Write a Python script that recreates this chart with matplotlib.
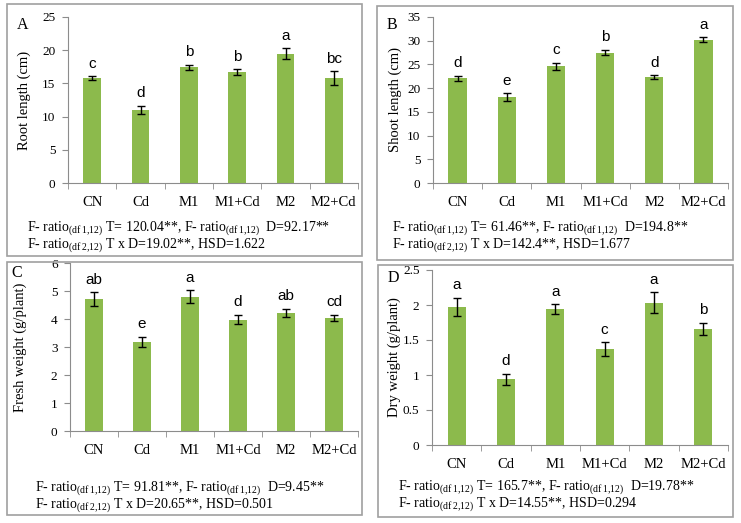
import matplotlib
matplotlib.use("Agg")
import matplotlib.pyplot as plt
from matplotlib.patches import Rectangle
from matplotlib.ticker import FixedLocator, MultipleLocator

plt.rcParams['font.family'] = 'Liberation Serif'
plt.rcParams['mathtext.fontset'] = 'custom'
plt.rcParams['mathtext.rm'] = 'Liberation Serif'

treatments = ['CN', 'Cd', 'M1', 'M1+Cd', 'M2', 'M2+Cd']

root_len = [15.8, 11.0, 17.4, 16.7, 19.5, 15.8]
root_err = [0.3, 0.6, 0.4, 0.4, 0.8, 1.0]
root_sig = ['c', 'd', 'b', 'b', 'a', 'bc']

shoot_len = [22.1, 18.1, 24.6, 27.5, 22.3, 30.2]
shoot_err = [0.5, 0.8, 0.8, 0.6, 0.4, 0.5]
shoot_sig = ['d', 'e', 'c', 'b', 'd', 'a']

fresh_wt = [4.7, 3.18, 4.8, 3.98, 4.21, 4.05]
fresh_err = [0.25, 0.18, 0.22, 0.17, 0.15, 0.11]
fresh_sig = ['ab', 'e', 'a', 'd', 'ab', 'cd']

dry_wt = [1.97, 0.94, 1.94, 1.37, 2.03, 1.66]
dry_err = [0.13, 0.08, 0.07, 0.1, 0.15, 0.09]
dry_sig = ['a', 'd', 'a', 'c', 'a', 'b']

SUB1 = r"$_{\mathrm{(df\,1{,}12)}}$"
SUB2 = r"$_{\mathrm{(df\,2{,}12)}}$"
stats_a = ["F- ratio" + SUB1 + " T= 120.04**, F- ratio" + SUB1 + "  D=92.17**",
           "F- ratio" + SUB2 + " T x D=19.02**, HSD=1.622"]
stats_b = ["F- ratio" + SUB1 + " T= 61.46**, F- ratio" + SUB1 + "  D=194.8**",
           "F- ratio" + SUB2 + " T x D=142.4**, HSD=1.677"]
stats_c = ["F- ratio" + SUB1 + " T= 91.81**, F- ratio" + SUB1 + "  D=9.45**",
           "F- ratio" + SUB2 + " T x D=20.65**, HSD=0.501"]
stats_d = ["F- ratio" + SUB1 + " T= 165.7**, F- ratio" + SUB1 + "  D=19.78**",
           "F- ratio" + SUB2 + " T x D=14.55**, HSD=0.294"]

W, H = 741, 523
BAR = '#8CBA4C'
GRID = '#8c8c8c'

fig = plt.figure(figsize=(W / 100, H / 100), dpi=100)


def px(x0, y0, x1, y1):
    # pixel box (top-left origin) -> figure fraction rect
    return [x0 / W, 1 - y1 / H, (x1 - x0) / W, (y1 - y0) / H]


def panel(box, ax_box, vals, errs, sig, ymax, ystep, ylabel, label_x,
          letter, letter_xy, stats, stats_xy):
    bx = px(*box)
    fig.patches.append(Rectangle((bx[0], bx[1]), bx[2], bx[3], transform=fig.transFigure,
                                 fill=False, edgecolor='#a0a0a0', linewidth=1.2))
    rect = px(*ax_box)
    ax = fig.add_axes(rect)
    x = range(len(treatments))
    ax.bar(x, vals, width=0.37, color=BAR, zorder=2)
    ax.errorbar(x, vals, yerr=errs, fmt='none', ecolor='black', elinewidth=1,
                capsize=3, capthick=1, zorder=3)
    for i, (v, e, s) in enumerate(zip(vals, errs, sig)):
        ax.annotate(s, (i, v + e), xytext=(0, 4), textcoords='offset points',
                    ha='center', va='bottom', fontsize=11, family='Liberation Sans')
    ax.set_xlim(-0.5, len(treatments) - 0.5)
    ax.set_ylim(0, ymax)
    ax.yaxis.set_major_locator(MultipleLocator(ystep))
    ax.set_xticks(list(x))
    ax.set_xticklabels(treatments, fontsize=10.5)
    ax.xaxis.set_minor_locator(FixedLocator([i - 0.5 for i in range(len(treatments) + 1)]))
    ax.tick_params(axis='x', which='major', length=0, pad=9)
    ax.tick_params(axis='x', which='minor', length=4, color=GRID, direction='out')
    ax.tick_params(axis='y', length=4, color=GRID, labelsize=9.5, pad=5)
    ax.yaxis.set_major_formatter(matplotlib.ticker.FuncFormatter(lambda v, p: f"{v:g}"))
    for side in ('top', 'right'):
        ax.spines[side].set_visible(False)
    for side in ('left', 'bottom'):
        ax.spines[side].set_color(GRID)
    ax.set_ylabel(ylabel, fontsize=10.5)
    # ylabel anchor sits on its right edge, so label_x is the label's centre + ~6 px
    ax.yaxis.set_label_coords((label_x + 6) / W, rect[1] + rect[3] / 2,
                              transform=fig.transFigure)
    fig.text(letter_xy[0] / W, 1 - letter_xy[1] / H, letter, fontsize=11.5,
             ha='center', va='center')
    for k, line in enumerate(stats):
        fig.text(stats_xy[0] / W, 1 - (stats_xy[1] + 17 * k) / H, line, fontsize=10,
                 ha='left', va='center')
    return ax


panel((7, 4, 362, 256), (68, 17, 358, 183), root_len, root_err, root_sig, 25, 5,
      'Root length (cm)', 25, 'A', (23, 25), stats_a, (27, 229))
panel((377, 6, 733, 260), (433, 17, 728, 183), shoot_len, shoot_err, shoot_sig, 35, 5,
      'Shoot length (cm)', 396, 'B', (392, 25), stats_b, (392, 229))
panel((7, 262, 362, 515), (70, 263, 358, 431), fresh_wt, fresh_err, fresh_sig, 6, 1,
      'Fresh weight (g/plant)', 21, 'C', (17, 273), stats_c, (35, 489))
panel((378, 265, 733, 517), (432, 270, 728, 445), dry_wt, dry_err, dry_sig, 2.5, 0.5,
      'Dry weight (g/plant)', 395, 'D', (393, 278), stats_d, (398, 488))

fig.savefig('out.png', dpi=100)
